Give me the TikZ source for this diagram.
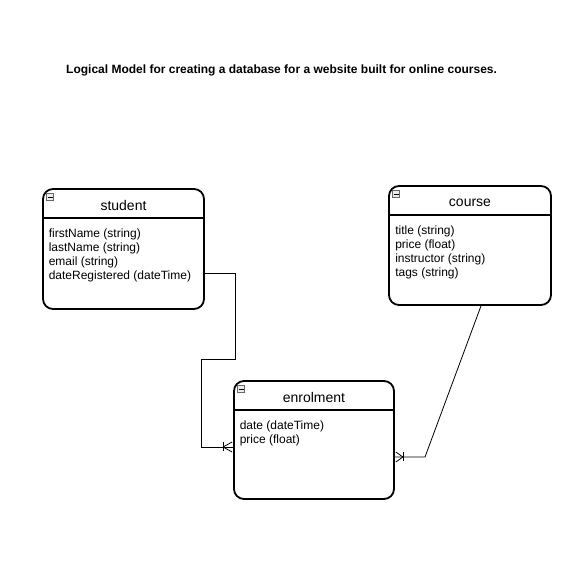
\documentclass[tikz,border=0pt]{standalone}
\usepackage{fontspec}
\setmainfont{Liberation Sans}
\usetikzlibrary{calc}
\begin{document}
\begin{tikzpicture}[x=1pt,y=-1pt,
  entity/.style={draw=black, line width=1.8pt, rounded corners=10pt, minimum width=161pt, minimum height=120pt, inner sep=0pt, fill=white},
  hdr/.style={font=\fontsize{14}{16}\selectfont, anchor=center},
  attrs/.style={font=\fontsize{12}{13.8}\selectfont, align=left, anchor=north west, inner sep=0pt},
  icon/.style={draw=black!60, fill=black!8, line width=0.5pt, minimum size=7pt, inner sep=0pt},
  conn/.style={draw=black, line width=0.8pt},
  ttl/.style={font=\fontsize{12}{14}\selectfont\bfseries, anchor=west, inner sep=0pt}]
\useasboundingbox (0,0) rectangle (574,561);
\fill[white] (0,0) rectangle (574,561);

\node[ttl] (title) at (66,70) {Logical Model for creating a database for a website built for online courses.};

% entities
\node[entity] (student) at (123.5,249) {};
\node[entity, minimum width=162pt, minimum height=119pt] (course) at (470,245.5) {};
\node[entity, minimum width=160pt, minimum height=118pt] (enrol) at (314,440) {};

% header lines
\draw[line width=1.5pt] ([yshift=-30pt]student.north west) -- ([yshift=-30pt]student.north east);
\draw[line width=1.5pt] ([yshift=-30pt]course.north west) -- ([yshift=-30pt]course.north east);
\draw[line width=1.5pt] ([yshift=-30pt]enrol.north west) -- ([yshift=-30pt]enrol.north east);

% headers
\node[hdr] (sh) at ($(student.north)+(0,17.5)$) {student};
\node[hdr] (ch) at ($(course.north)+(0,17.5)$) {course};
\node[hdr] (eh) at ($(enrol.north)+(0,17.5)$) {enrolment};

% icons
\foreach \n in {student,course,enrol}{
  \node[icon] (\n-ic) at ($(\n.north west)+(8,9)$) {};
  \draw[line width=0.6pt] ($(\n-ic.center)+(-2.4,0)$) -- ($(\n-ic.center)+(2.4,0)$);
}

% attributes
\node[attrs] (sa) at ($(student.north west)+(6.5,41)$) {firstName (string)\\lastName (string)\\email (string)\\dateRegistered (dateTime)};
\node[attrs] (ca) at ($(course.north west)+(7,41)$) {title (string)\\price (float)\\instructor (string)\\tags (string)};
\node[attrs] (ea) at ($(enrol.north west)+(6.5,41)$) {date (dateTime)\\price (float)};

% connector student -> enrolment
\coordinate (s1) at ($(student.east)+(0,24)$);
\coordinate (e1) at ($(enrol.west)+(0,7)$);
\draw[conn] (s1) -| (235,359) -| (201,447) -- (e1);
\draw[conn] ($(e1)+(-10,-4.5)$) -- ($(e1)+(-10,4.5)$);
\draw[conn] ($(e1)+(-10,0)$) -- ($(e1)+(-1,-5)$);
\draw[conn] ($(e1)+(-10,0)$) -- ($(e1)+(-1,5)$);

% connector course -> enrolment
\coordinate (c1) at ($(course.south)+(11,0)$);
\coordinate (e2) at ($(enrol.east)+(0,17)$);
\draw[conn] (c1) -- (425,457) -- (e2);
\draw[conn] ($(e2)+(8,-4.5)$) -- ($(e2)+(8,4.5)$);
\draw[conn] ($(e2)+(8,0)$) -- ($(e2)+(1,-5)$);
\draw[conn] ($(e2)+(8,0)$) -- ($(e2)+(1,5)$);
\end{tikzpicture}
\end{document}
